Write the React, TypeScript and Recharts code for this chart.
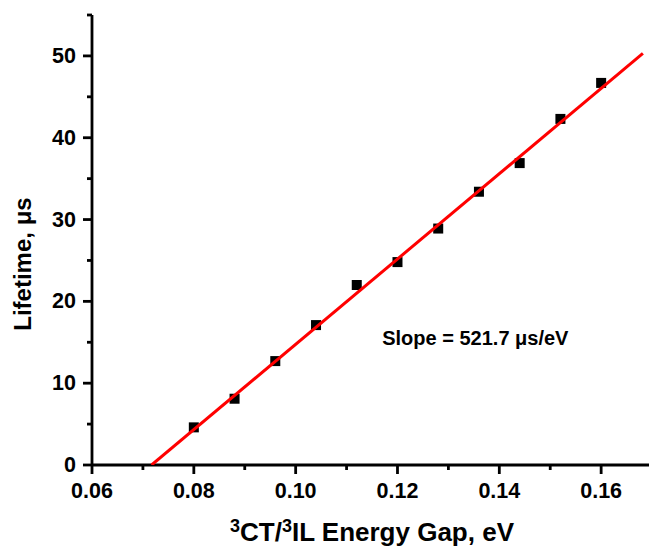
import React from 'react';
import { ScatterChart, Scatter, XAxis, YAxis } from 'recharts';

const energyGap = [0.08, 0.088, 0.096, 0.104, 0.112, 0.12, 0.128, 0.136, 0.144, 0.152, 0.16];
const lifetime = [4.6, 8.1, 12.7, 17.1, 22.0, 24.8, 28.9, 33.4, 36.9, 42.3, 46.7];
const fitX = [0.0717, 0.1682];
const fitY = [0, 50.3];
const xTicks = [0.06, 0.07, 0.08, 0.09, 0.1, 0.11, 0.12, 0.13, 0.14, 0.15, 0.16];
const yTicks = [0, 5, 10, 15, 20, 25, 30, 35, 40, 45, 50, 55];
const slopeText = 'Slope = 521.7 \u03bcs/eV';
const slopeAnchor = [{ x: 0.117, y: 15.5 }];

const points = energyGap.map((x, i) => ({ x, y: lifetime[i] }));
const fitLine = fitX.map((x, i) => ({ x, y: fitY[i] }));

const FONT = '"Liberation Sans", Arial, sans-serif';

const XTick = (props: any) => {
  const { x, y, payload } = props;
  const v = payload.value;
  const major = Math.round(v * 100) % 2 === 0;
  return (
    <g>
      <line x1={x} y1={y} x2={x} y2={y + (major ? 9 : 5)} stroke="#000" strokeWidth={2.8} />
      {major && (
        <text x={x} y={y + 33} textAnchor="middle" fontFamily={FONT} fontWeight="bold" fontSize={21.5} fill="#000">
          {v.toFixed(2)}
        </text>
      )}
    </g>
  );
};

const YTick = (props: any) => {
  const { x, y, payload } = props;
  const v = payload.value;
  const major = v % 10 === 0;
  return (
    <g>
      <line x1={x} y1={y} x2={x - (major ? 9 : 5)} y2={y} stroke="#000" strokeWidth={2.8} />
      {major && (
        <text x={x - 16} y={y} textAnchor="end" dominantBaseline="central" fontFamily={FONT} fontWeight="bold" fontSize={21.5} fill="#000">
          {v}
        </text>
      )}
    </g>
  );
};

const Square = (props: any) => {
  const { cx, cy } = props;
  return <rect x={cx - 5} y={cy - 5} width={10} height={10} fill="#000" />;
};

const Empty = () => <g />;

const SlopeLabel = (props: any) => {
  const { cx, cy } = props;
  return (
    <text x={cx} y={cy} dominantBaseline="central" fontFamily={FONT} fontWeight="bold" fontSize={20} fill="#000">
      {slopeText}
    </text>
  );
};

const YTitle = (props: any) => {
  const vb = props.viewBox;
  const cx = vb.x + 22;
  const cy = vb.y + vb.height / 2 + 24;
  return (
    <text x={cx} y={cy} transform={`rotate(-90 ${cx} ${cy})`} textAnchor="middle" dominantBaseline="central" fontFamily={FONT} fontWeight="bold" fontSize={24} fill="#000">
      Lifetime, {'\u03bc'}s
    </text>
  );
};

const XTitle = (props: any) => {
  const vb = props.viewBox;
  return (
    <text x={vb.x + 280} y={vb.y + 76} textAnchor="middle" fontFamily={FONT} fontWeight="bold" fontSize={26} fill="#000">
      <tspan fontSize={18} dy={-9}>3</tspan>
      <tspan dy={9}>CT/</tspan>
      <tspan fontSize={18} dy={-9}>3</tspan>
      <tspan dy={9}>IL Energy Gap, eV</tspan>
    </text>
  );
};

export default function App() {
  return (
    <div style={{ position: 'absolute', left: 0, top: 0, background: '#fff' }}>
      <ScatterChart width={649} height={546} margin={{ top: 15, right: 0, bottom: 0, left: 0 }}>
        <XAxis
          type="number"
          dataKey="x"
          domain={[0.06, 0.1694]}
          ticks={xTicks}
          interval={0}
          allowDataOverflow
          height={81}
          tickSize={0}
          tickMargin={0}
          tickLine={false}
          axisLine={{ stroke: '#000', strokeWidth: 2.8 }}
          tick={<XTick />}
          label={{ content: <XTitle /> }}
        />
        <YAxis
          type="number"
          dataKey="y"
          domain={[0, 55]}
          ticks={yTicks}
          interval={0}
          allowDataOverflow
          width={92}
          tickSize={0}
          tickMargin={0}
          tickLine={false}
          axisLine={{ stroke: '#000', strokeWidth: 2.8 }}
          tick={<YTick />}
          label={{ content: <YTitle /> }}
        />
        <Scatter data={points} shape={<Square />} isAnimationActive={false} />
        <Scatter data={fitLine} line={{ stroke: '#ff0000', strokeWidth: 3 }} shape={<Empty />} isAnimationActive={false} />
        <Scatter data={slopeAnchor} shape={<SlopeLabel />} isAnimationActive={false} />
      </ScatterChart>
    </div>
  );
}
